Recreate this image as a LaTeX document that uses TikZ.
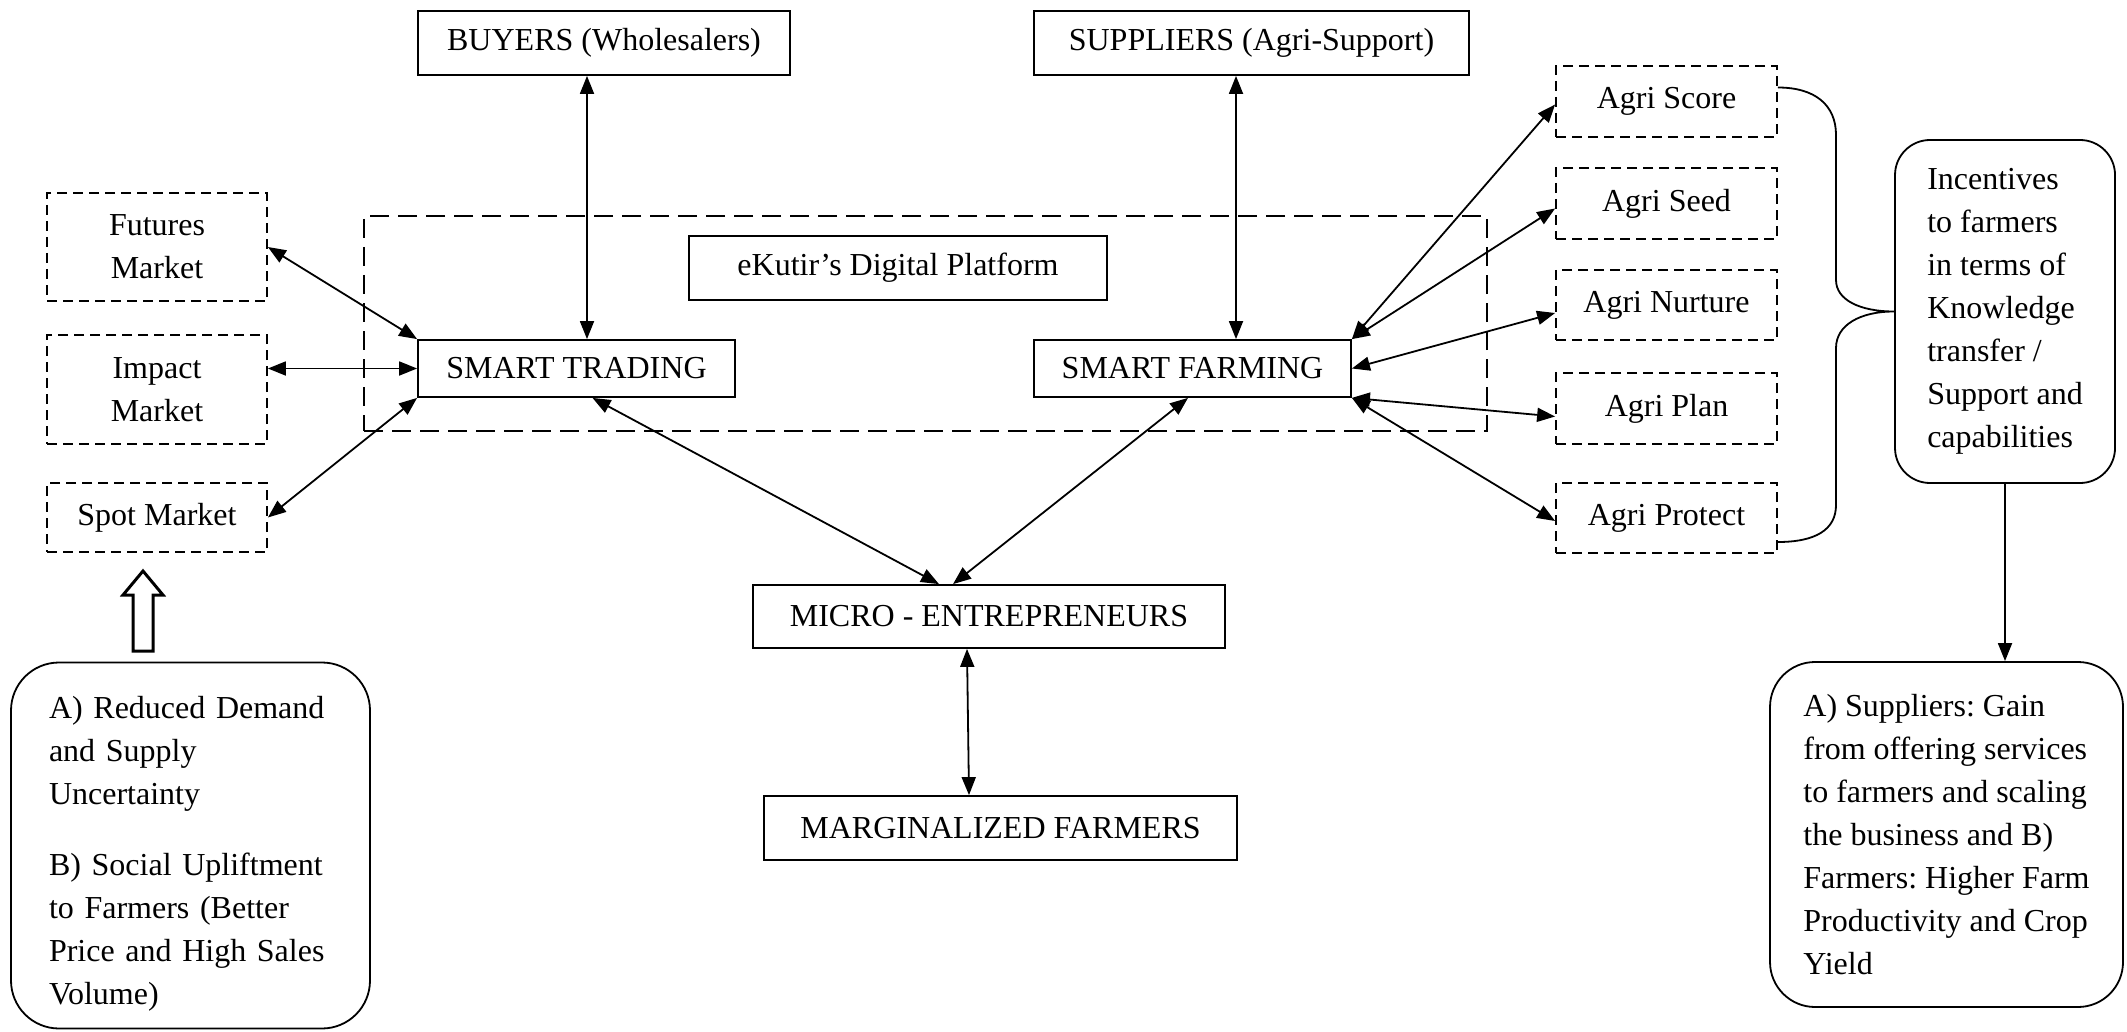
\documentclass[tikz,border=0pt]{standalone}
\usepackage{fontspec}
\setmainfont{Liberation Serif}
\usetikzlibrary{arrows.meta,calc}
\frenchspacing
\begin{document}
\begin{tikzpicture}[x=1pt,y=-1pt,
  every node/.style={font=\fontsize{32}{43}\selectfont\frenchspacing, inner sep=0pt},
  box/.style={draw, line width=1.8pt, align=center},
  dbox/.style={draw, line width=1.8pt, dash pattern=on 10pt off 6pt, align=center},
  rbox/.style={draw, line width=1.8pt, rounded corners=#1, align=left},
  biarrow/.style={line width=1.8pt, {Triangle[length=18pt,width=14pt]}-{Triangle[length=18pt,width=14pt]}},
  onearrow/.style={line width=1.8pt, -{Triangle[length=18pt,width=14pt]}},
  brace/.style={line width=1.8pt}
]
\useasboundingbox (0,0) rectangle (2127,1032);

% platform frame
\node[draw, line width=1.8pt, dash pattern=on 19pt off 9pt, minimum width=1123pt, minimum height=215pt] (platform) at (925.5,323.5) {};

% top boxes
\node[box, minimum width=372pt, minimum height=64pt] (buyers) at (604,43) {BUYERS (Wholesalers)};
\node[box, minimum width=435pt, minimum height=64pt] (suppliers) at (1251.5,43) {SUPPLIERS (Agri-Support)};

% markets
\node[dbox, minimum width=220pt, minimum height=108pt] (futures) at (157,247) {Futures\\Market};
\node[dbox, minimum width=220pt, minimum height=109pt] (impact) at (157,389.5) {Impact\\Market};
\node[dbox, minimum width=220pt, minimum height=69pt] (spot) at (157,517.5) {Spot Market};

% platform contents
\node[box, minimum width=418pt, minimum height=64pt] (ekutir) at (898,268) {eKutir’s Digital Platform};
\node[box, minimum width=317pt, minimum height=57pt] (st) at (576.5,368.5) {SMART TRADING};
\node[box, minimum width=317pt, minimum height=57pt] (sf) at (1192.5,368.5) {SMART FARMING};

% agri services
\node[dbox, minimum width=221pt, minimum height=71pt] (score) at (1666.5,101.5) {Agri Score};
\node[dbox, minimum width=221pt, minimum height=71pt] (seed) at (1666.5,203.5) {Agri Seed};
\node[dbox, minimum width=221pt, minimum height=70pt] (nurture) at (1666.5,305) {Agri Nurture};
\node[dbox, minimum width=221pt, minimum height=71pt] (plan) at (1666.5,408.5) {Agri Plan};
\node[dbox, minimum width=221pt, minimum height=70pt] (protect) at (1666.5,518) {Agri Protect};

% incentives
\node[rbox=35pt, minimum width=220pt, minimum height=343pt] (incentives) at (2005,311.5)
  {Incentives\\to farmers\\in terms of\\Knowledge\\transfer /\\Support and\\capabilities};

% bottom centre
\node[box, minimum width=472pt, minimum height=63pt] (micro) at (989,616.5) {MICRO - ENTREPRENEURS};
\node[box, minimum width=473pt, minimum height=64pt] (marg) at (1000.5,828) {MARGINALIZED FARMERS};

% outcome boxes
\node[rbox=48pt, minimum height=366pt, text width=283pt, inner xsep=38pt] (benefitsL) at (190.5,845.5)
  {\rule{0pt}{38pt}A) Reduced Demand\\and Supply\\Uncertainty\\[28pt]B) Social Upliftment\\to Farmers (Better\\Price and High Sales\\Volume)};
\node[rbox=45pt, minimum width=353pt, minimum height=345pt] (benefitsR) at (1946.5,834.5)
  {A) Suppliers: Gain\\from offering services\\to farmers and scaling\\the business and B)\\Farmers: Higher Farm\\Productivity and Crop\\Yield};

% hollow arrow
\draw[line width=3pt, line join=miter] (133,651) -- (133,595) -- (123,595) -- (143,571) -- (163,595) -- (153,595) -- (153,651) -- cycle;

% connectors
\draw[biarrow] (futures.east) -- (st.north west);
\draw[biarrow] (impact.east |- st.west) -- (st.west);
\draw[biarrow] (spot.east) -- (st.south west);
\draw[biarrow] ($(buyers.south)+(-17,0)$) -- ($(st.north)+(10.5,0)$);
\draw[biarrow] ($(suppliers.south)+(-15.5,0)$) -- ($(sf.north)+(43.5,0)$);
\draw[biarrow] ($(st.south)+(16,0)$) -- ($(micro.north)+(-50,0)$);
\draw[biarrow] ($(sf.south)+(-4.5,0)$) -- ($(micro.north)+(-36,0)$);
\draw[biarrow] ($(micro.south)+(-22,0)$) -- ($(marg.north)+(-31.5,0)$);
\draw[biarrow] (sf.north east) -- ($(score.west)+(0,3)$);
\draw[biarrow] (sf.north east) -- ($(seed.west)+(0,5)$);
\draw[biarrow] (sf.east) -- ($(nurture.west)+(0,8)$);
\draw[biarrow] (sf.south east) -- ($(plan.west)+(0,8)$);
\draw[biarrow] (sf.south east) -- ($(protect.west)+(0,3)$);
\draw[onearrow] (incentives.south) -- (incentives.south |- benefitsR.north);

% brace
\draw[brace] ($(score.east)+(0,-14)$) .. controls (1815,87.5) and (1836,105) .. (1836,135)
  -- (1836,280) .. controls (1836,300) and (1860,311.5) .. (incentives.west)
  .. controls (1860,311.5) and (1836,325) .. (1836,348)
  -- (1836,505) .. controls (1836,530) and (1815,542) .. ($(protect.east)+(0,24)$);
\end{tikzpicture}
\end{document}
